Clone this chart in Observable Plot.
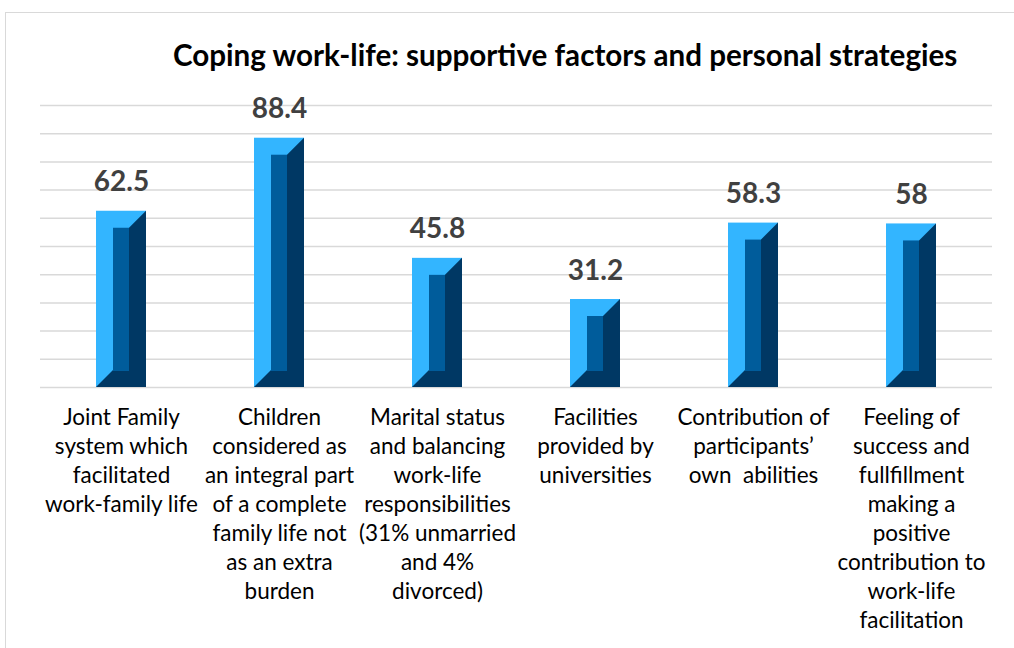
<!DOCTYPE html>
<html>
<head>
<meta charset="utf-8">
<script src="https://cdn.jsdelivr.net/npm/d3@7"></script>
<script src="https://cdn.jsdelivr.net/npm/@observablehq/plot@0.6"></script>
<style>
  html, body { margin: 0; padding: 0; background: #fff; }
  body { width: 1014px; height: 648px; position: relative; overflow: hidden; font-family: Lato, "Noto Sans", sans-serif; }
  #frame { position: absolute; left: 5px; top: 12px; width: 1030px; height: 680px; border: 1.5px solid #d9d9d9; box-sizing: border-box; }
  #title { position: absolute; left: 173px; top: 40px; font-size: 29.6px; line-height: 30px; font-weight: bold; color: #000; white-space: nowrap; }
  #chart { position: absolute; left: 0; top: 80px; }
</style>
</head>
<body>
<div id="frame"></div>
<div id="title">Coping work-life: supportive factors and personal strategies</div>
<div id="chart"></div>
<script>
// Supportive factors and personal strategies for coping with work-life demands (%)
const categories = [
  "Joint Family\nsystem which\nfacilitated\nwork-family life",
  "Children\nconsidered as\nan integral part\nof a complete\nfamily life not\nas an extra\nburden",
  "Marital status\nand balancing\nwork-life\nresponsibilities\n(31% unmarried\nand 4%\ndivorced)",
  "Facilities\nprovided by\nuniversities",
  "Contribution of\nparticipants’\nown  abilities",
  "Feeling of\nsuccess and\nfullfillment\nmaking a\npositive\ncontribution to\nwork-life\nfacilitation"
];
const values = [62.5, 88.4, 45.8, 31.2, 58.3, 58];
const gridTicks = [0, 10, 20, 30, 40, 50, 60, 70, 80, 90, 100];

const data = categories.map((category, i) => ({category, value: values[i]}));

const light = "#33b5ff";
const mid = "#005c9b";
const dark = "#003864";
const bevel = 17;

// Shaded right side and bottom of each bevelled bar
function bevelShade(rows) {
  return (index, scales) => {
    const {x, y} = scales;
    const bw = typeof x.bandwidth === "function" ? x.bandwidth() : x.bandwidth;
    const g = d3.create("svg:g").attr("fill", dark);
    const yb = y(0);
    for (const d of rows) {
      const x0 = x(d.category), x1 = x0 + bw, yt = y(d.value);
      const pts = [
        [x1, yt], [x1 - bevel, yt + bevel], [x1 - bevel, yb - bevel],
        [x0 + bevel, yb - bevel], [x0, yb], [x1, yb]
      ];
      g.append("path").attr("d", "M" + pts.map(p => p.join(",")).join("L") + "Z");
    }
    return g.node();
  };
}

const chart = Plot.plot({
  width: 1014,
  height: 568,
  marginTop: 25,
  marginBottom: 261,
  marginLeft: 40,
  marginRight: 22,
  style: {fontFamily: "Lato, 'Noto Sans', sans-serif", background: "transparent", overflow: "visible"},
  x: {domain: categories, paddingInner: 0.685, paddingOuter: 0.3425, axis: null},
  y: {domain: [0, 100], axis: null},
  marks: [
    Plot.ruleY(gridTicks, {stroke: "#d9d9d9", strokeWidth: 1.5}),
    Plot.barY(data, {x: "category", y: "value", fill: light}),
    bevelShade(data),
    Plot.barY(data, {x: "category", y: "value", fill: mid, insetLeft: bevel, insetRight: bevel, insetTop: bevel, insetBottom: bevel - 1}),
    Plot.text(data, {x: "category", y: "value", text: d => String(d.value), lineAnchor: "bottom", dy: -20, fontSize: 28, fontWeight: "bold", fill: "#404040"}),
    Plot.text(data, {x: "category", y: 0, text: "category", lineAnchor: "top", dy: 17, fontSize: 22.5, lineHeight: 1.29, fill: "#000"})
  ]
});
document.getElementById("chart").appendChild(chart);
</script>
</body>
</html>
